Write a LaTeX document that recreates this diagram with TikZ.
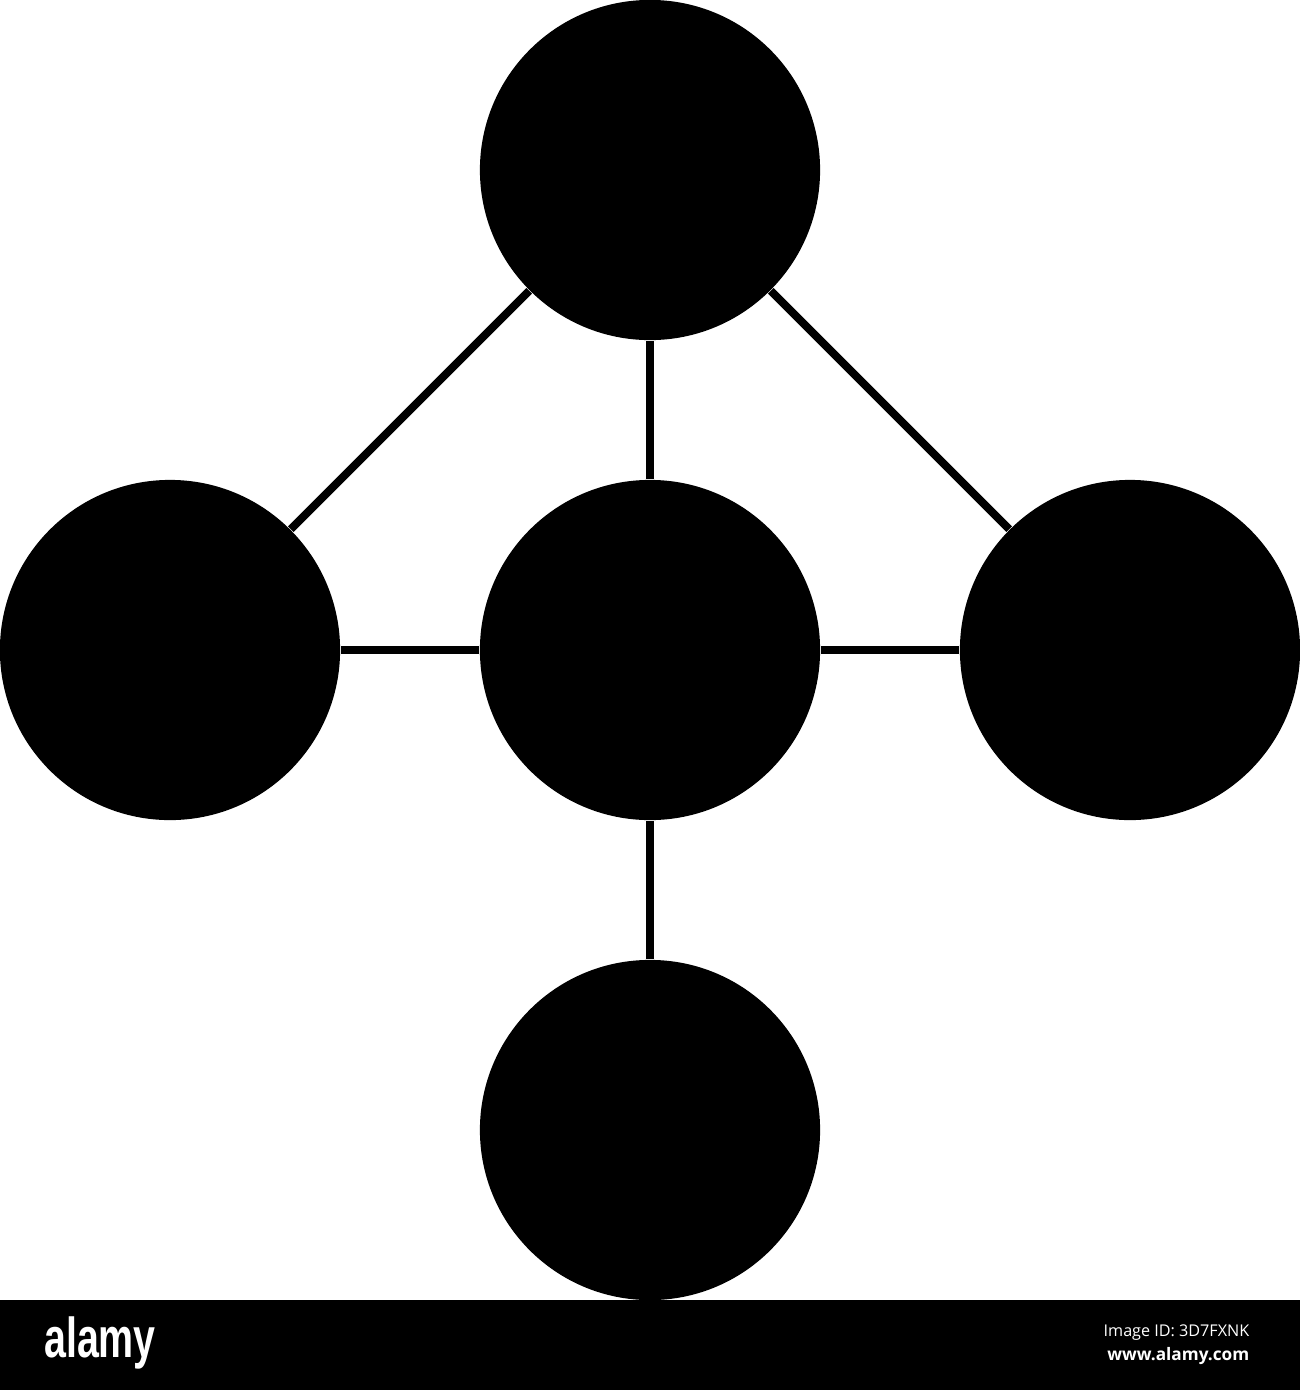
\documentclass[tikz,border=0pt]{standalone}
\usepackage{fontspec}
\setsansfont{Open Sans}
\newfontfamily\logofont{Liberation Sans}

\tikzset{
	dot/.style={circle, fill=black, minimum size=3.4cm, inner sep=0pt},
	link/.style={line width=0.08cm},
}

\begin{document}
\begin{tikzpicture}[x=0.01cm, y=-0.01cm]
	\useasboundingbox (0,0) rectangle (1300,1390);
	
	\node [dot] (top) at (650,170) {};
	\node [dot] (left) at (170,650) {};
	\node [dot] (mid) at (650,650) {};
	\node [dot] (right) at (1130,650) {};
	\node [dot] (bottom) at (650,1130) {};
	
	\foreach \a/\b in {top/left, top/right, top/mid, mid/left, mid/right, mid/bottom}
	{
		\draw [link] (\a) -- (\b);
	}
	
	% bar at the bottom
	\fill (0,1300) rectangle (1300,1390);
	\node [text=white, xscale=0.7, inner sep=0pt, font=\logofont\bfseries\fontsize{16}{16}\selectfont] (logo) at (100,1343) {alamy};
	\node [text=white, inner sep=0pt, anchor=east, font=\sffamily\fontsize{4.6}{5}\selectfont] (imgid) at (1250,1333) {Image ID: 3D7FXNK};
	\node [text=white, inner sep=0pt, anchor=east, font=\sffamily\bfseries\fontsize{4.9}{5}\selectfont] (site) at (1250,1356) {www.alamy.com};
	
\end{tikzpicture}
\end{document}
